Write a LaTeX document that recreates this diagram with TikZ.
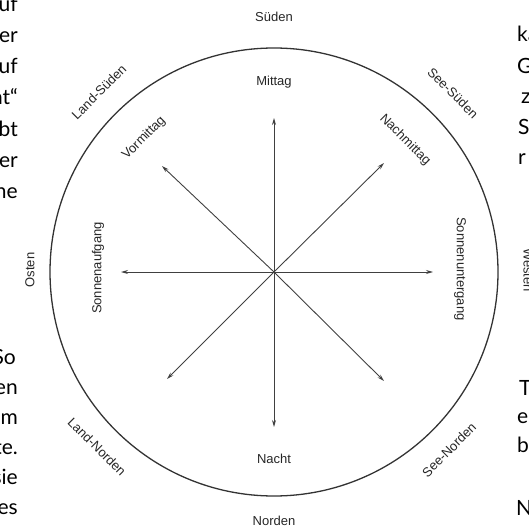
\documentclass[tikz,border=0pt]{standalone}
\usepackage{fontspec}
\setmainfont{Liberation Sans}
\newfontfamily\bodyfont{Lato}
\usetikzlibrary{arrows.meta}
\begin{document}
\begin{tikzpicture}[x=1pt,y=-1pt,
  ray/.style={draw=black!75, line width=0.9pt, -{Stealth[length=7pt,width=4pt]}},
  lbl/.style={font=\fontsize{13}{13}\selectfont, text=black!85, inner sep=0pt},
  fragl/.style={font=\bodyfont\fontsize{21}{21}\selectfont, inner sep=0pt, anchor=base east},
  fragr/.style={font=\bodyfont\fontsize{21}{21}\selectfont, inner sep=0pt, anchor=base west}]
\useasboundingbox (0,0) rectangle (528,532);
\clip (0,0) rectangle (528,532);
\coordinate (c) at (274,272);
\draw[black!80, line width=1.3pt] (c) circle[radius=224pt];
% arrow ends
\coordinate (up) at (274,118);
\coordinate (dn) at (274,427);
\coordinate (lf) at (121,272);
\coordinate (rt) at (433,272);
\coordinate (ul) at (162,166);
\coordinate (ur) at (384,163);
\coordinate (ll) at (167,379);
\coordinate (lr) at (384,381);
\foreach \e in {up,dn,lf,rt,ul,ur,ll,lr} \draw[ray] (c) -- (\e);
% labels
\node[lbl] (sueden) at (274,17) {Süden};
\node[lbl] (mittag) at (274,82) {Mittag};
\node[lbl] (nacht) at (274,459) {Nacht};
\node[lbl] (norden) at (274,521) {Norden};
\node[lbl, rotate=90] (osten) at (30,270) {Osten};
\node[lbl, rotate=-90] (westen) at (528,270) {Westen};
\node[lbl, rotate=90] (aufg) at (98,268) {Sonnenaufgang};
\node[lbl, rotate=-90] (unterg) at (460,269) {Sonnenuntergang};
\node[lbl, rotate=45] (lands) at (99,92) {Land-Süden};
\node[lbl, rotate=-45] (sees) at (453,93) {See-Süden};
\node[lbl, rotate=-45] (landn) at (97,447) {Land-Norden};
\node[lbl, rotate=45] (seen) at (449,450) {See-Norden};
\node[lbl, rotate=45] (vorm) at (144,138) {Vormittag};
\node[lbl, rotate=-45] (nachm) at (405,140) {Nachmittag};
% page text fragments, left
\node[fragl] (l1) at (18,12) {auf};
\node[fragl] (l2) at (18,43) {er};
\node[fragl] (l3) at (18,74) {auf};
\node[fragl] (l4) at (18,105) {at“};
\node[fragl] (l5) at (18,136) {bt};
\node[fragl] (l6) at (18,167) {er};
\node[fragl] (l7) at (18,198) {ne};
\node[fragl] (l8) at (16,364) {So};
\node[fragl] (l9) at (18,394) {en};
\node[fragl] (l10) at (18,424) {em};
\node[fragl] (l11) at (18,454) {te.};
\node[fragl] (l12) at (18,484) {sie};
\node[fragl] (l13) at (18,514) {es};
% page text fragments, right
\node[fragr] (r1) at (517,42) {ka};
\node[fragr] (r2) at (517,74) {G};
\node[fragr] (r3) at (521,103) {z};
\node[fragr] (r4) at (518,134) {S};
\node[fragr] (r5) at (518,164) {r};
\node[fragr] (r6) at (519,395) {T};
\node[fragr] (r7) at (517,423) {e};
\node[fragr] (r8) at (517,452) {b};
\node[fragr] (r9) at (516,515) {N};
\end{tikzpicture}
\end{document}
